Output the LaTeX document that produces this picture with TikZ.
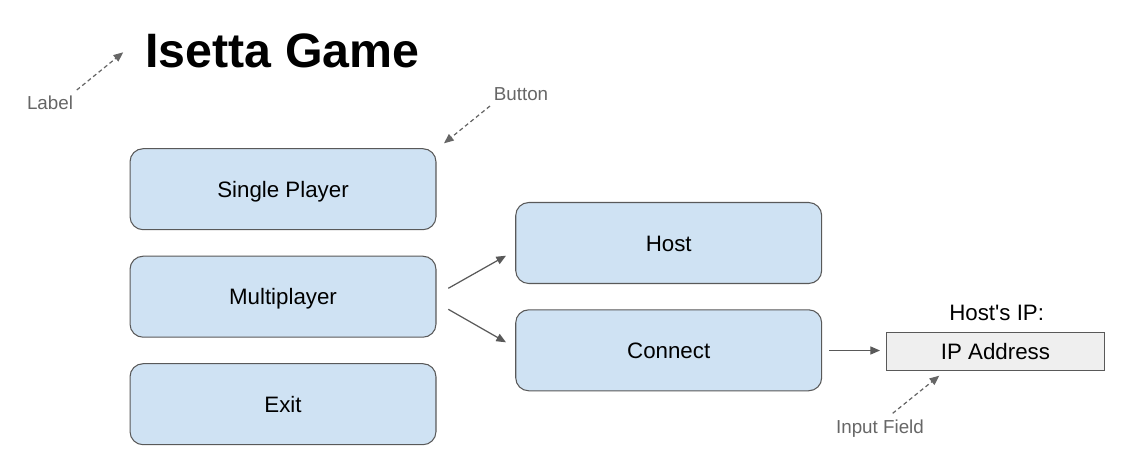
\documentclass[tikz,border=0pt]{standalone}
\usepackage{fontspec}
\setmainfont{Liberation Sans}
\usetikzlibrary{arrows.meta}
\definecolor{boxfill}{HTML}{CFE2F3}
\definecolor{boxline}{HTML}{595959}
\definecolor{notegray}{HTML}{666666}
\definecolor{fieldfill}{HTML}{EFEFEF}

\begin{document}
\begin{tikzpicture}[x = 0.02cm, y = -0.02cm]
\tikzstyle{ButtonStyle}=[
shape = rectangle,
rounded corners = 0.26cm,
minimum width = 6.12cm,
minimum height = 1.62cm,
line width = 0.6pt,
fill = boxfill,
draw = boxline,
font = \fontsize{12.7}{15}\selectfont,
text height = 9.1pt,
text depth = 0pt]
\tikzstyle{FieldStyle}=[
shape = rectangle,
minimum width = 4.37cm,
minimum height = 0.76cm,
line width = 0.6pt,
fill = fieldfill,
draw = boxline,
font = \fontsize{12.7}{15}\selectfont,
text height = 9.1pt,
text depth = 0pt]
\tikzstyle{NoteStyle}=[
anchor = base,
inner sep = 0pt,
text = notegray,
font = \fontsize{10.7}{13}\selectfont]
\tikzstyle{post}=[
draw = boxline,
line width = 0.7pt,
-{Triangle[length = 5.5pt, width = 4.6pt]}]
\tikzstyle{hint}=[
post,
draw = notegray,
dash pattern = on 2.3pt off 1.7pt]
\useasboundingbox (0, 0) rectangle (1123, 471);
\node[inner sep = 0pt, text height = 19.6pt, text depth = 0pt,
font = \fontsize{27.5}{33}\selectfont\bfseries] (t1) at (282.5, 50) {Isetta Game};
\node[ButtonStyle] (b1) at (283, 189.2) {Single Player};
\node[ButtonStyle] (b2) at (283, 296.7) {Multiplayer};
\node[ButtonStyle] (b3) at (283, 404.2) {Exit};
\node[ButtonStyle] (b4) at (668.7, 243) {Host};
\node[ButtonStyle] (b5) at (668.7, 350.3) {Connect};
\node[FieldStyle] (f1) at (995.5, 351.7) {IP Address};
\node[anchor = base, inner sep = 0pt, font = \fontsize{12.7}{15}\selectfont] (l1) at (996.7, 320) {Host\textquotesingle s IP:};
\node[NoteStyle] (n1) at (50, 109.3) {Label};
\node[NoteStyle] (n2) at (521, 100) {Button};
\node[NoteStyle] (n3) at (880, 433.3) {Input Field};
\coordinate (c1) at (76.8, 90);
\coordinate (c2) at (123.2, 52.3);
\coordinate (c3) at (490, 106);
\coordinate (c4) at (444, 143.3);
\coordinate (c5) at (892.7, 413.3);
\coordinate (c6) at (939.3, 375.7);
\coordinate (c7) at (448.3, 288.3);
\coordinate (c8) at (506, 255.7);
\coordinate (c9) at (448.3, 309.3);
\coordinate (c10) at (506, 342.3);
\coordinate (c11) at (829.3, 350.5);
\coordinate (c12) at (880, 350.5);
\draw[post] (c7) -- (c8);
\draw[post] (c9) -- (c10);
\draw[post] (c11) -- (c12);
\draw[hint] (c1) -- (c2);
\draw[hint] (c3) -- (c4);
\draw[hint] (c5) -- (c6);
\end{tikzpicture}
\end{document}
